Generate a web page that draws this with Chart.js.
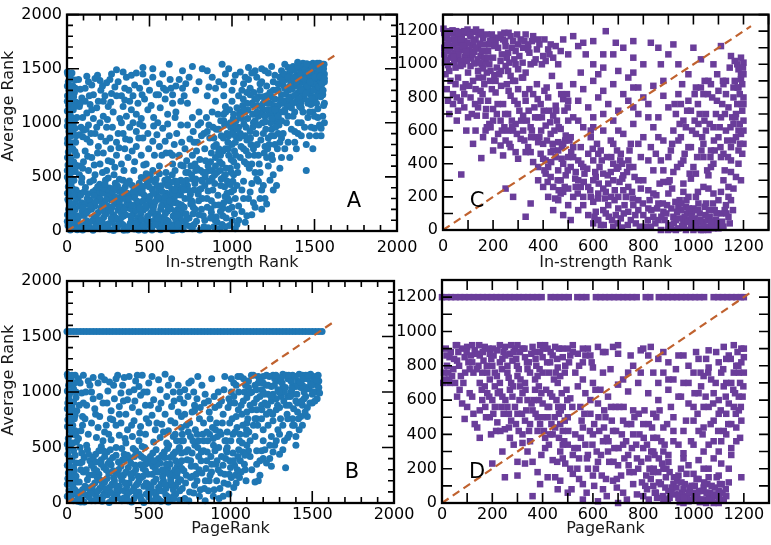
<!DOCTYPE html>
<html>
<head>
<meta charset="utf-8">
<script src="https://cdn.jsdelivr.net/npm/chart.js@4.4.1/dist/chart.umd.min.js"></script>
<style>
  body { margin: 0; background: #fff; }
  #wrap { position: relative; width: 771px; height: 545px; overflow: hidden; }
  canvas { position: absolute; }
</style>
</head>
<body>
<div id="wrap">
  <canvas id="chartA" width="425" height="275" style="left:0;top:0"></canvas>
  <canvas id="chartC" width="381" height="275" style="left:390px;top:0"></canvas>
  <canvas id="chartB" width="425" height="280" style="left:0;top:265px"></canvas>
  <canvas id="chartD" width="381" height="280" style="left:390px;top:265px"></canvas>
</div>
<script>
// tick labels
const AB_TICKS = [0, 500, 1000, 1500, 2000];
const CD_TICKS = [0, 200, 400, 600, 800, 1000, 1200];

// panel A: average rank vs in-strength rank
const A_POINTS = [
  [5,1450],[20,1420],[8,1380],[35,1340],[12,1300],[45,1280],[3,1250],[28,1220],[55,1190],[10,1160],[38,1120],[18,1080],[60,1050],[5,1020],[30,990],[48,950],[12,920],[25,880],[4,850],[52,820],[15,790],[35,760],[8,730],[58,700],[22,670],[40,640],[6,610],[30,580],[50,550],[14,520],[2,500],[42,470],[25,440],[8,410],[55,380],[18,350],[35,320],[5,290],[48,260],[22,230],[10,200],[38,170],[60,140],[15,110],[30,80],[6,50],[45,25],[20,10],[70,1400],[80,1310],[90,1230],[75,1150],[85,960],[95,870],[72,600],[88,450],[65,300],[92,180],
  [2,1470],[30,1460],[15,1400],[48,1395],[2,1340],[25,1310],[50,1320],[18,1265],[40,1240],[2,1200],[22,1180],[45,1150],[2,1110],[28,1050],[45,1010],[2,970],[20,945],[38,905],[55,880],[3,810],[28,815],[48,735],[3,680],[15,640],[52,610],[2,560],[25,540],[10,470],[32,395],[3,350],[45,335],[12,270],[30,245],[50,200],[3,150],[25,130],[45,100],[2,90],[52,55],[28,30],
  [130,1380],[170,1410],[200,1390],[240,1370],[260,1400],[215,1340],[150,1350],[310,1380],[290,1330],[330,1250],[360,1420],[390,1440],[420,1460],[300,1490],[520,1500],[620,1540],[460,1450],[560,1360],[585,1320],[480,1380],[600,1300],[640,1260],[700,1480],[720,1360],[680,1400],
  [110,1200],[140,1170],[180,1140],[120,1090],[160,1040],[220,1200],[250,1150],[280,1100],[200,1000],[240,960],[130,980],[100,930],[170,900],[260,860],[300,820],[330,1000],[360,1060],[390,1120],[420,1080],[450,1040],[340,1150],[380,1200],[430,1180],[470,1220],[510,1160],[540,1260],[500,1300],[460,970],[490,900],[520,830],[550,1000],[580,950],[610,1080],[640,1180],[660,1100],[690,980],[620,880],[560,780],[600,720],[650,800],[680,700],[420,780],[380,840],[350,760],[300,700],[270,640],[220,720],[190,780],[140,820],[110,740],[150,680],[200,620],[240,560],[290,590],[330,620],[370,680],[410,640],[450,700],[480,620],[520,560],[560,600],[600,540],[640,620],[130,560],[170,520],[100,640],[310,900],[420,920],[400,1000],[270,1270],[160,1260],[110,1320],[230,1250],[350,1320],[440,1320],[520,1420],[580,1450],[660,1340],[460,860],[530,700],[180,960],[220,1060],
  [75,520],[95,580],[125,690],[165,610],[185,720],[215,540],[235,830],[265,760],[285,520],[315,770],[345,560],[355,850],[395,740],[405,560],[435,860],[465,610],[495,760],[505,520],[545,890],[575,700],[595,830],[625,720],[655,560],[665,900],[695,820],[75,890],[115,940],[145,900],[205,870],[275,960],[340,900],[380,960],[440,990],[525,970],[610,990],[560,530],[690,610],[250,650],[120,850],[480,530],
  [80,1180],[95,1050],[135,1250],[150,1120],[190,1200],[205,1300],[245,1030],[265,1190],[300,1250],[320,1040],[350,1210],[375,1300],[410,1350],[455,1260],[490,1120],[525,1050],[565,1140],[595,1220],[625,1400],[655,1050],[690,1200],[400,1250],[270,1450],[340,1470],[460,1510],[555,1260],[630,1320],[710,1250],[120,1430],[185,1440],
  [80,20],[110,60],[140,30],[170,85],[200,20],[232,55],[258,12],[290,48],[322,92],[350,28],[383,72],[408,18],[442,63],[471,8],[503,47],[528,95],[561,33],[588,68],[622,22],[648,58],[683,34],[102,143],[128,188],[163,122],[189,172],[222,128],[248,203],[283,148],[309,193],[342,138],[368,214],[403,158],[428,117],[462,192],[488,137],[523,204],[549,158],[583,127],[608,183],[643,138],[668,197],[702,163],[88,262],[122,298],[148,247],[183,322],[208,268],[243,338],[268,287],[302,252],[328,318],[363,268],[388,333],[423,278],[448,352],[482,298],[508,262],[543,328],[568,292],[603,348],[628,312],[663,258],[688,332],[112,402],[138,452],[173,378],[198,432],[233,468],[258,398],[293,442],[318,478],[353,408],[378,462],[413,388],[438,442],[473,482],[498,408],[533,452],[558,392],[593,468],[618,418],[653,462],[678,398],[120,95],[210,100],[300,110],[390,110],[480,95],[570,100],[660,110],[155,220],[245,230],[335,225],[425,240],[515,230],[605,240],[75,350],[195,365],[315,370],[435,375],[555,380],[675,370],[720,60],[740,120],[760,20],[750,250],[730,420],
  [65,80],[95,10],[125,35],[155,95],[185,40],[215,75],[245,35],[275,90],[305,20],[338,60],[365,10],[395,45],[425,85],[455,30],[485,70],[515,10],[545,80],[575,45],[605,100],[635,55],[665,15],[695,90],[70,130],[118,165],[148,200],[178,145],[205,215],[236,160],[265,180],[296,120],[326,175],[356,150],[386,205],[418,190],[446,155],[478,210],[508,165],[538,135],[568,200],[596,160],[628,205],[656,170],[686,125],[78,230],[108,245],[138,285],[168,230],[198,300],[228,250],[258,320],[288,270],[318,230],[348,300],[378,250],[408,310],[438,265],[468,330],[498,285],[528,240],[558,310],[588,265],[618,330],[648,290],[678,250],[82,330],[126,345],[156,360],[186,410],[216,350],[246,385],[276,355],[306,415],[336,380],[366,350],[396,420],[426,395],[456,370],[486,440],[516,385],[546,420],[576,365],[606,440],[636,385],[666,430],[696,380],[90,490],[160,470],[250,490],[340,470],[450,495],[540,480],[610,480],[690,470],
  [62,12],[88,48],[112,22],[133,78],[158,8],[176,52],[193,102],[224,32],[252,68],[268,118],[282,5],[312,58],[331,130],[344,8],[372,42],[389,140],[416,65],[434,10],[451,112],[466,48],[494,102],[511,30],[534,58],[552,118],[567,12],[598,38],[614,88],[641,5],[657,118],[674,62],[698,12],[96,215],[142,232],[172,268],[214,190],[238,292],[274,222],[296,312],[318,272],[346,200],[373,296],[394,238],[413,334],[442,212],[458,276],[476,236],[502,318],[519,188],[536,276],[573,232],[592,312],[614,214],[636,262],[662,330],[684,190],[104,362],[162,328],[222,398],[284,392],[342,352],[402,364],[462,412],[522,352],[572,418],[642,352],[702,404],[230,432],[362,438],[508,468],[630,450],
  [705,20],[725,110],[745,45],[765,160],[785,90],[805,10],[815,200],[835,100],[855,30],[875,170],[895,240],[905,130],[925,20],[945,210],[965,120],[985,50],[715,300],[735,380],[755,280],[775,440],[795,340],[815,470],[835,420],[855,370],[875,280],[895,440],[915,330],[935,480],[955,410],[975,300],[995,360],[1005,460],[725,470],[765,220],[880,490],[1000,220],[1015,160],[1040,100],[1030,420],[1070,300],
  [610,420],[622,280],[638,520],[652,380],[668,150],[680,460],[694,240],[708,380],[722,160],[736,540],[748,340],[762,480],[776,200],[788,580],[798,280],[812,390],[826,140],[838,500],[848,300],[862,560],[872,200],[884,380],[898,100],[908,540],[920,240],[932,420],[944,140],[958,320],[972,460],[984,280],[996,540],[870,640],[930,700],[990,580],[640,700],[700,460],[760,260],[820,460],[880,120],[950,500],
  [720,540],[750,600],[780,480],[800,380],[820,300],[850,220],[870,120],[890,40],[910,80],[930,180],[950,260],[970,350],[990,430],[1010,520],[1030,600],[1050,680],[1070,760],[1090,840],[1110,920],[1130,1000],[760,700],[790,820],[810,560],[840,650],[860,460],[880,560],[900,680],[920,760],[940,620],[960,520],[980,700],[1000,800],[1020,880],[1040,960],[1060,1040],[1080,1100],[1100,700],[1120,620],[1140,540],[1160,460],[1180,380],[1200,300],[1180,200],[1140,220],[1100,300],[1060,380],[1020,300],[980,200],[940,60],[1000,100],[1060,180],[1120,440],[1160,700],[1200,780],[1220,860],[1240,940],[1260,1020],[1280,900],[1260,800],[1240,700],[1220,600],[1270,420],[1300,680],[1320,760],[1350,680],[1380,820],[1400,900],[1450,560],[1470,880],[1500,950],[1520,1050],[1540,880],[1420,1000],[830,900],[860,980],[890,860],[920,940],[950,1020],[980,880],[770,380],[740,300],[710,220],[800,150],[770,60],[830,40],[960,40],[1020,20],
  [705,600],[715,760],[725,650],[745,850],[755,520],[765,920],[775,620],[785,740],[795,980],[805,660],[815,880],[825,540],[835,760],[845,1050],[855,600],[865,860],[875,720],[885,960],[895,520],[905,800],[915,1080],[925,640],[935,880],[945,740],[955,980],[965,580],[975,820],[985,1120],[995,660],[1005,920],[1015,740],[1025,1020],[1035,540],[1045,860],[1055,780],[1065,1160],[1075,640],[1085,960],[1095,1040],[1105,580],[1115,800],[1125,1080],[1135,700],[1145,900],[1155,1160],[1165,620],[1175,840],[1185,1000],[1195,720],[1205,940],[1215,1120],[1225,800],[1235,1000],[1245,660],[1255,880],[1265,1080],[1275,760],[1285,980],[1295,1180],[1300,860],[1290,580],[1250,520],[1210,680],[1170,540],[1130,760],[1090,620],[1050,900],[1010,640],[970,900],[930,560],[890,780],[850,920],[810,1000],[770,820],[730,980],[1120,1180],[1160,1060],[1200,1200],[1240,1240],[1280,1300],[1060,1300],[1000,1200],[950,1250],[1110,1320],[1180,1380],[1230,1180],[1270,1130],[1185,1110],[1140,1020],[1080,880],[1020,820],[960,760],[900,600],[840,540],[780,560],
  [905,940],[918,720],[932,1020],[948,860],[962,1100],[978,760],[992,960],[1008,1040],[1022,700],[1032,940],[1046,1100],[1058,880],[1072,990],[1086,740],[1098,1120],[1112,860],[1126,960],[1138,1220],[1152,800],[1162,980],[1176,1080],[1190,900],[1202,1010],[1216,760],[1228,1080],[1238,880],[1252,1160],[1264,960],[1278,1040],[1290,820],[1296,1100],[1210,1250],[1250,1300],[1190,1180],[1068,1220],[1132,1280],[950,1080],[1010,970],[1090,1280],[1160,1240],
  [1010,380],[1040,230],[1070,460],[1090,140],[1110,360],[1130,260],[1150,480],[1170,300],[1190,420],[1210,250],[1230,470],[1250,380],[1030,60],[1080,80],[1120,150],
  [1150,1100],[1180,1150],[1200,1060],[1220,1180],[1240,1120],[1260,1220],[1280,1160],[1300,1260],[1320,1200],[1340,1300],[1360,1240],[1380,1340],[1400,1280],[1420,1380],[1440,1320],[1460,1420],[1480,1360],[1500,1460],[1520,1400],[1540,1500],[1550,1450],[1330,1400],[1350,1460],[1370,1520],[1390,1440],[1410,1500],[1430,1550],[1450,1480],[1470,1530],[1490,1550],[1510,1520],[1530,1550],[1550,1540],[1560,1380],[1540,1320],[1520,1280],[1500,1200],[1480,1250],[1460,1180],[1440,1220],[1420,1140],[1400,1180],[1380,1100],[1360,1140],[1340,1060],[1320,1100],[1300,1020],[1280,1060],[1260,1120],[1240,1040],[1310,1350],[1290,1420],[1270,1300],[1250,1380],[1230,1280],[1210,1340],[1190,1240],[1170,1300],[1150,1220],[1130,1160],[1110,1260],[1090,1180],[1070,1120],[1050,1060],[1030,1140],[1010,1080],[990,1000],[1100,1400],[1140,1480],[1180,1500],[1220,1460],[1000,1300],[950,1350],[900,1200],[850,1250],[800,1100],[760,1050],[730,1180],[780,1300],[1040,1250],[960,1150],[880,1100],[1540,950],[1490,1100],[1510,1320],[1470,1300],[1560,1450],[850,1480],[960,1450],[1080,1420],[900,1320],
  [1300,1480],[1320,1540],[1340,1510],[1360,1380],[1380,1490],[1400,1420],[1420,1520],[1440,1400],[1460,1540],[1480,1470],[1500,1530],[1520,1450],[1540,1400],[1555,1500],[1320,1320],[1350,1340],[1390,1200],[1410,1330],[1430,1260],[1450,1360],[1470,1200],[1490,1400],[1510,1240],[1530,1360],[1550,1260],[1560,1180],[1280,1360],[1260,1440],[1310,1180],[1350,1180],[1430,1460],[1470,1440],[1500,1350],[1545,1420],[1525,1500],
  [1292,1215],[1305,1395],[1318,1450],[1326,1265],[1338,1420],[1346,1228],[1356,1500],[1364,1310],[1374,1415],[1382,1255],[1392,1380],[1398,1525],[1405,1225],[1415,1455],[1422,1300],[1434,1410],[1442,1495],[1448,1270],[1456,1340],[1464,1470],[1474,1380],[1478,1170],[1486,1515],[1494,1300],[1504,1420],[1512,1180],[1516,1550],[1524,1330],[1534,1430],[1538,1240],[1546,1360],[1552,1300],[1558,1540],[1560,1410],[1486,1225],[1416,1180],[1366,1180],[1336,1150],[1452,1545],[1398,1560],
  [1310,900],[1330,1000],[1340,820],[1360,940],[1370,1060],[1390,760],[1400,1000],[1420,880],[1430,1100],[1450,800],[1460,1050],[1480,960],[1490,760],[1500,1060],[1510,880],[1520,1130],[1530,980],[1550,1060],[1555,1160],[1440,960],[1380,920],[1320,1120],[1410,1150],[1470,1100],[1560,1000],
  [740,1420],[800,1380],[820,1500],[880,1420],[920,1380],[980,1500],[1010,1380],[1050,1470],[1100,1510],[1150,1420],[1200,1480],[1240,1520],[1170,1360],[1020,1440],[860,1330],[700,1320],[760,1520],[1120,1460],[940,1540],[1070,1360]
];

// panel B: average rank vs PageRank
const B_ROW_Y = 1545;
const B_ROW_X = [0,20,40,60,80,100,120,140,160,180,200,220,240,260,280,300,320,340,360,380,400,420,440,460,480,500,520,540,560,580,600,620,640,660,680,700,720,740,760,780,800,820,840,860,880,900,920,940,960,980,1000,1020,1040,1060,1080,1100,1120,1140,1160,1180,1200,1220,1240,1260,1280,1300,1320,1340,1360,1380,1400,1420,1440,1460,1480,1500,1520,1540,1560];
const B_POINTS = [
  [5,1140],[25,1110],[50,1150],[70,1120],[10,1060],[40,1030],[15,980],[55,950],[5,900],[30,870],[60,830],[12,790],[45,760],[20,720],[3,690],[50,650],[28,620],[8,580],[58,550],[20,510],[40,470],[5,440],[30,400],[55,360],[15,330],[45,290],[25,250],[5,220],[60,190],[35,150],[12,110],[50,80],[22,40],[65,15],[80,1080],[90,990],[75,880],[95,700],[80,500],[100,1150],[85,300],[95,120],
  [2,1160],[30,1150],[15,1090],[45,1080],[2,1010],[25,1000],[55,1000],[10,940],[40,910],[2,850],[25,830],[50,790],[5,750],[35,700],[15,660],[55,610],[2,530],[35,540],[10,490],[50,430],[20,380],[2,340],[40,320],[8,270],[55,240],[30,200],[2,170],[48,120],[25,90],[2,60],[40,20],
  [130,1100],[160,1130],[190,1080],[230,1110],[260,1090],[300,1120],[340,1060],[380,1140],[420,1100],[460,1150],[500,1080],[560,1110],[600,1160],[640,1120],[680,1060],[150,1000],[200,960],[250,1010],[290,940],[330,990],[370,930],[410,1020],[450,970],[490,1000],[530,930],[570,1020],[610,960],[650,1000],[690,940],[120,880],[170,850],[220,900],[270,830],[320,870],[360,800],[400,860],[440,820],[480,880],[520,790],[560,850],[600,800],[640,870],[680,820],[110,760],[150,720],[200,780],[240,700],[280,750],[330,720],[370,660],[410,740],[450,690],[500,720],[540,660],[580,710],[620,650],[660,720],[700,680],[130,620],[180,590],[230,640],[270,570],[320,610],[360,540],[400,600],[440,560],[480,620],[530,550],[570,590],[610,540],[650,600],[120,520],[210,510],[300,500],[460,510],[700,560],[720,800],[740,960],[760,1100],[800,1140],[720,1020],[780,880],
  [70,580],[85,650],[95,780],[100,900],[115,1000],[140,1060],[160,940],[175,800],[190,680],[210,1140],[220,560],[245,900],[255,620],[265,760],[285,1060],[300,700],[310,1150],[320,800],[345,920],[355,580],[380,1000],[395,700],[415,920],[430,1150],[445,630],[470,1000],[485,760],[510,880],[520,1140],[550,720],[575,900],[590,640],[620,1060],[635,740],[655,920],[670,560],[690,1000],[700,780],[440,1050],[350,1130],
  [90,30],[120,70],[150,20],[180,60],[215,15],[245,75],[275,30],[305,80],[335,20],[365,60],[395,10],[425,70],[455,30],[485,80],[515,20],[545,60],[575,15],[605,70],[635,35],[665,80],[110,150],[140,120],[170,180],[200,130],[230,190],[260,140],[290,200],[320,150],[350,110],[380,180],[410,140],[440,200],[470,150],[500,120],[530,190],[560,140],[590,200],[620,160],[650,120],[680,190],[100,280],[135,250],[165,310],[195,260],[225,320],[255,270],[285,230],[315,300],[345,250],[375,320],[405,270],[435,240],[465,310],[495,260],[525,330],[555,280],[585,240],[615,310],[645,270],[675,330],[105,410],[140,380],[175,440],[210,390],[245,460],[280,410],[315,370],[350,440],[385,400],[420,470],[455,420],[490,380],[525,450],[560,400],[595,460],[630,410],[665,380],[700,450],
  [70,45],[105,10],[135,55],[165,100],[195,25],[228,85],[258,5],[288,50],[318,110],[348,45],[378,95],[410,40],[440,100],[470,5],[500,55],[530,100],[560,35],[590,105],[620,10],[650,60],[690,25],[75,190],[125,210],[155,150],[185,230],[215,160],[245,220],[275,170],[305,125],[335,205],[365,145],[395,225],[425,165],[455,230],[485,180],[515,145],[545,215],[575,170],[605,130],[635,225],[665,155],[695,210],[80,360],[118,300],[150,340],[182,290],[210,350],[240,300],[270,345],[300,270],[330,330],[360,280],[390,360],[420,300],[450,345],[480,290],[510,360],[540,310],[570,360],[600,280],[630,350],[660,300],[690,360],[90,450],[125,480],[160,410],[195,470],[230,420],[265,480],[300,430],[335,490],[370,430],[405,490],[440,440],[475,500],[510,420],[545,480],[580,430],[615,490],[650,440],[685,490],
  [62,100],[84,8],[98,88],[128,135],[145,85],[158,255],[173,20],[188,108],[205,205],[220,60],[238,128],[252,355],[268,95],[282,290],[296,160],[312,45],[326,245],[340,390],[356,180],[372,20],[388,262],[402,110],[418,340],[432,175],[448,60],[464,240],[480,350],[494,170],[508,90],[522,260],[538,20],[552,350],[566,110],[584,300],[598,170],[612,60],[626,260],[642,170],[656,40],[672,240],[690,110],[92,370],[132,440],[178,370],[222,470],[262,380],[352,390],[412,420],[472,400],[532,380],[598,410],[662,460],[702,310],
  [720,40],[750,100],[780,160],[810,60],[840,130],[870,200],[900,120],[930,40],[960,180],[990,80],[1020,140],[730,250],[760,330],[790,260],[820,380],[850,310],[880,420],[910,350],[940,270],[970,400],[1000,320],[1030,250],[1060,380],[1090,300],[1120,420],[1150,190],[1065,280],[1180,380],[1210,480],[1240,400],[1270,520],[1300,440],[1337,317],[1330,560],[1360,620],[1400,600],[1440,700],[1470,780],
  [705,130],[715,290],[725,180],[735,390],[745,20],[755,230],[765,450],[775,90],[785,330],[795,200],[805,420],[815,120],[825,270],[835,470],[845,20],[855,380],[865,110],[875,250],[885,350],[895,60],[905,470],[915,200],[925,300],[935,130],[945,420],[955,60],[965,260],[975,480],[985,170],[995,380],[1005,230],[1015,450],[1025,340],[1035,180],[1045,420],[1055,230],[1075,460],[1085,350],[1095,200],[1110,470],[1130,300],[1160,350],[1180,250],[1190,470],[1220,360],[1260,460],
  [608,350],[622,520],[634,200],[648,430],[662,620],[676,280],[688,500],[702,380],[712,560],[726,460],[742,640],[756,380],[768,240],[782,520],[796,620],[808,300],[822,460],[836,560],[846,200],[858,460],[872,620],[884,280],[896,520],[908,660],[918,380],[928,500],[942,620],[954,340],[966,560],[978,460],[992,260],[1002,560],[1018,380],[1028,640],[1042,300],[1058,620],[1072,540],[1088,430],[1098,660],[1112,640],
  [740,480],[770,560],[800,500],[830,620],[860,560],[890,680],[920,600],[950,720],[980,640],[1010,760],[1040,680],[1070,800],[1100,720],[1130,840],[1160,760],[1190,880],[1220,800],[1250,920],[1280,840],[1310,960],[1340,880],[1370,1000],[1400,920],[1430,1040],[1460,960],[1490,1080],[1520,1000],[1540,1100],[750,720],[780,830],[810,760],[840,900],[870,820],[900,960],[930,880],[960,1020],[990,940],[1020,1080],[1050,1000],[1080,1120],[1110,1040],[1140,1150],[1170,1080],[1200,1140],[1230,1060],[1260,1150],[1290,1100],[1320,1160],[1350,1120],[1380,1150],[1410,1100],[1440,1150],[1470,1120],[1500,1140],[1530,1060],[1200,1000],[1260,980],[1320,1040],[1380,1060],[1440,880],[1500,900],[1160,940],[1230,700],[1290,660],[1350,760],[1410,820],[1150,600],[1200,560],[1100,520],[1050,480],[980,500],[1000,900],[1100,950],[1190,1020],[1350,960],[1450,1000],
  [705,620],[715,900],[730,700],[745,1080],[755,600],[765,820],[775,1000],[785,660],[795,940],[805,560],[815,860],[825,1060],[835,720],[845,980],[855,640],[865,920],[875,760],[885,1120],[895,580],[905,860],[915,720],[925,1000],[935,640],[945,920],[955,800],[965,1140],[975,560],[985,860],[995,720],[1005,1000],[1015,620],[1025,900],[1035,780],[1045,1140],[1055,560],[1065,880],[1075,700],[1085,1000],[1095,620],[1100,820],
  [1110,1100],[1120,880],[1130,1000],[1140,700],[1150,1060],[1160,840],[1170,1140],[1180,960],[1190,760],[1200,1080],[1210,900],[1220,1150],[1230,980],[1240,820],[1250,1050],[1260,740],[1270,1120],[1280,940],[1290,1020],[1300,860],[1310,1130],[1320,700],[1330,1000],[1340,1150],[1360,880],[1370,1100],[1380,980],[1390,700],[1400,1050],[1410,900],[1420,1160],[1430,780],[1440,1060],[1450,940],[1460,1150],[1470,860],[1480,1030],[1490,1160],[1500,980],[1510,1100],[1520,1140],[1530,940],[1540,1040],[1545,990],[1380,760],[1420,660],[1300,620],[1250,600],[1200,660],[1150,760],
  [1005,1120],[1020,960],[1035,1060],[1048,840],[1062,1140],[1078,920],[1092,1060],[1106,760],[1118,990],[1128,1150],[1144,900],[1158,1020],[1166,700],[1178,1110],[1192,840],[1206,980],[1216,1060],[1226,880],[1238,1140],[1248,960],[1258,800],[1268,1060],[1278,1150],[1288,880],[1298,1000],[1306,760],[1316,1080],[1326,920],[1336,1040],[1346,800],[1356,1150],[1366,960],[1376,1030],[1386,850],[1396,1140],[1406,980],[1416,760],[1426,1090],[1436,920],[1446,1120],[1456,820],[1466,1040],[1476,1150],[1486,900],[1496,1060],[1506,1000],[1516,920],[1526,1110],[1536,1150],[1380,700],
  [1120,560],[1160,470],[1200,400],[1240,520],[1280,560],[1320,480],[1350,590],[1400,520],[1170,200],[1250,330]
];

// panel C: in-strength rank against a second ranking
const C_POINTS = [
  [5,1190],[25,1200],[45,1185],[70,1195],[95,1190],[10,1160],[35,1150],[60,1165],[85,1140],[110,1170],[130,1150],[15,1120],[40,1110],[65,1125],[90,1100],[115,1115],[140,1095],[20,1080],[50,1070],[75,1085],[100,1060],[125,1075],[150,1050],[30,1040],[60,1030],[165,1120],[180,1080],[200,1160],[220,1100],[240,1150],[260,1070],[280,1140],[300,1120],[200,1040],[230,1020],[170,1010],[255,1040],[8,1010],[25,960],[50,980],[80,1000],[110,990],[140,960],[190,960],[250,990],[290,1000],[320,1100],[345,1070],[370,1030],[395,1000],[420,1090],[10,940],[30,900],[60,920],[90,880],[120,900],[160,920],[210,900],[270,930],[330,950],
  [2,1215],[15,1175],[30,1190],[52,1200],[75,1175],[98,1210],[120,1195],[142,1180],[160,1160],[22,1140],[48,1135],[72,1150],[98,1130],[122,1135],[148,1125],[5,1100],[28,1095],[55,1090],[80,1110],[105,1085],[130,1100],[155,1080],[5,1060],[35,1060],[62,1055],[88,1045],[112,1035],[138,1030],[165,1040],[15,1025],[45,1010],[72,1020],[95,1020],[125,1005],[155,1000],[180,1040],[210,1130],[230,1180],[250,1110],[270,1170],[290,1080],[310,1150],[265,1010],[215,980],[185,1120],[195,1180],[245,1190],[330,1180],[355,1140],[375,1090],[400,1050],[440,1040],[300,970],[350,1000],[175,950],
  [8,1180],[38,1205],[62,1185],[85,1200],[108,1180],[132,1210],[152,1195],[175,1180],[188,1140],[205,1110],[222,1160],[235,1060],[248,1140],[262,1190],[275,1100],[285,1030],[296,1180],[305,1050],[318,1010],[325,1140],[340,1090],[360,1170],[365,1010],[385,1120],[405,1150],[410,1020],[425,1060],[450,1110],[20,995],[42,1045],[70,990],[92,1075],[118,1060],[145,1010],[160,975],[185,1000],[205,935],[232,960],[260,960],[280,900],[320,920],
  [40,820],[80,860],[110,800],[150,840],[180,780],[210,830],[240,760],[270,810],[300,850],[330,780],[360,820],[390,760],[420,800],[450,750],[480,790],[60,720],[100,680],[140,740],[170,690],[200,730],[230,660],[260,700],[290,640],[320,690],[350,620],[380,680],[410,630],[440,690],[470,610],[500,660],[130,600],[160,560],[190,620],[220,580],[250,540],[280,600],[310,550],[340,500],[370,560],[400,520],[430,580],[460,530],[490,570],[93,600],[200,480],[240,450],[270,500],[300,430],[330,470],[360,410],[390,460],[420,380],[450,440],[480,400],[153,434],[73,335],[330,80],[250,250],[280,200],[380,300],[410,340],[440,260],[470,300],[500,250],[350,160],[420,200],
  [15,850],[50,880],[70,780],[100,950],[130,850],[165,880],[195,850],[225,940],[255,880],[285,780],[315,920],[345,850],[375,880],[405,840],[435,930],[465,870],[495,820],[25,700],[55,660],[85,740],[115,700],[150,780],[185,640],[215,700],[245,620],[275,660],[305,720],[335,660],[365,740],[395,680],[425,720],[455,660],[485,720],[120,520],[170,600],[205,540],[235,600],[265,520],[295,580],[325,540],[355,600],[385,560],[415,540],[445,600],[475,500],[505,540],[230,510],[290,470],[350,470],[410,420],[460,480],[500,440],
  [105,870],[128,760],[142,920],[158,820],[172,730],[188,900],[200,660],[218,760],[232,870],[248,700],[262,840],[276,620],[288,900],[298,760],[312,660],[328,820],[342,720],[352,560],[368,680],[378,790],[392,600],[402,720],[414,860],[428,650],[438,520],[452,720],[462,620],[472,820],[488,540],[498,740],[20,780],[40,760],[55,800],[85,820],[135,690],[175,620],[260,600],[320,600],[380,530],[440,480],
  [480,1150],[520,1170],[540,1110],[570,1060],[600,1000],[620,940],[650,1200],[690,1130],[720,1100],[760,1040],[800,1000],[830,1130],[860,1100],[900,1060],[940,1000],[980,940],[1030,1030],[1080,1000],[1110,1110],[1150,1050],[1180,970],[1200,1010],[500,1060],[460,1000],[640,1060],[700,960],[740,920],[1000,1100],[1060,900],[1120,880],[1190,910],[430,1120],[380,1150],[340,1120],
  [470,1080],[560,1130],[600,1140],[640,980],[680,1060],[760,1140],[870,1000],[920,1120],[550,950],[760,950],[880,900],[500,780],[640,700],[780,860],[820,680],[700,600],[760,740],[600,620],[540,660],[860,560],[900,440],[940,540],[820,420],[780,520],[740,420],[680,520],[880,360],[850,460],[700,380],[620,460],
  [520,880],[560,850],[600,900],[640,840],[680,880],[720,820],[760,860],[800,800],[840,870],[880,810],[540,780],[580,740],[620,800],[660,760],[700,720],[740,780],[780,700],[820,760],[860,680],[900,740],[520,680],[560,620],[600,680],[640,600],[680,660],[720,580],[760,640],[800,560],[840,620],[880,540],[920,600],[510,560],[550,500],[590,560],[630,480],[670,540],[710,460],[750,520],[790,440],[830,500],[870,420],[910,480],[950,400],[520,440],[560,380],[600,420],[640,340],[680,400],[720,330],[760,380],[800,300],[840,360],[880,290],[920,350],[960,280],[540,300],[580,260],[620,220],[660,280],[700,200],[740,260],[780,180],[820,240],[860,160],[900,220],[940,140],[980,200],[1020,160],
  [380,380],[400,260],[430,320],[460,360],[470,220],[490,330],[510,380],[520,200],[540,420],[550,260],[565,340],[580,460],[590,200],[600,300],[615,520],[625,380],[640,250],[655,440],[670,350],[685,180],[695,480],[705,290],[715,400],[725,150],[735,350],[745,480],[755,230],[765,320],[440,120],[480,90],[510,60],[560,150],[600,40],[640,120],[675,60],[520,500],[480,520],[430,470],[400,430],[590,600],
  [405,360],[418,290],[432,410],[448,190],[458,300],[474,430],[486,260],[498,360],[512,470],[528,310],[538,220],[552,400],[562,290],[576,370],[588,240],[598,490],[608,350],[622,280],[634,420],[646,190],[658,330],[672,440],[686,240],[694,370],[708,420],[716,310],[732,200],[744,380],[462,240],[530,350],
  [460,180],[500,150],[540,120],[580,90],[620,60],[650,100],[680,20],[710,70],[740,110],[770,40],[800,90],[830,20],[860,60],[880,110],[900,30],[920,80],[940,10],[960,50],[975,100],[990,20],[1005,70],[1020,10],[1035,50],[1050,20],[1065,80],[1080,10],[1095,40],[1110,100],[950,120],[1000,130],[1050,160],[1100,180],[1140,200],[1130,150],[870,0],[910,5],[1060,0],[1030,0],[820,130],[760,150],[700,130],[600,170],[560,200],[480,230],[530,260],[610,320],[680,300],[650,230],[720,240],[1080,220],[1040,260],[990,310],[1060,330],[1120,300],
  [610,110],[630,30],[660,150],[690,90],[715,15],[730,200],[750,60],[780,120],[790,250],[810,20],[825,180],[840,80],[855,130],[865,280],[885,60],[895,150],[905,20],[915,250],[930,60],[935,110],[945,180],[955,25],[965,80],[970,140],[985,60],[995,110],[1000,0],[1012,40],[1025,100],[1040,30],[1045,140],[1058,60],[1072,30],[1085,120],[1090,60],[1100,10],[1115,50],[1125,120],[1140,80],[1150,180],[1010,200],[960,230],[900,290],[840,220],[780,300],[1060,250],[1110,230],[1160,250],[970,0],[930,0],[1000,40],
  [605,80],[618,190],[642,30],[662,80],[672,200],[698,40],[722,100],[738,30],[758,190],[768,90],[786,20],[798,160],[818,60],[832,120],[848,40],[852,210],[872,80],[878,160],[892,100],[898,0],[912,130],[922,40],[928,170],[942,70],[952,160],[962,20],[978,50],[982,130],[992,80],[1008,20],[1018,120],[1028,60],[1038,0],[1048,90],[1062,120],[1070,50],[1078,160],[1092,100],[1105,30],[1120,20],[1132,100],[1145,40],[1158,120],[1018,230],[972,180],
  [940,820],[980,780],[1010,860],[1040,820],[1070,880],[1100,840],[1130,900],[1160,860],[1190,940],[1200,800],[930,700],[960,660],[990,720],[1020,640],[1050,700],[1080,620],[1110,680],[1140,740],[1170,700],[1200,760],[950,560],[980,500],[1010,580],[1040,520],[1070,480],[1100,560],[1130,600],[1160,640],[1190,580],[1200,520],[960,420],[1000,380],[1040,440],[1080,400],[1120,460],[1150,420],[1180,480],[1150,350],[1170,320],[1190,300],[1140,260],[1200,660],[1185,820],[1195,880],[1175,1000],
  [905,300],[915,520],[925,760],[935,380],[945,640],[955,880],[965,460],[975,720],[985,340],[995,600],[1005,820],[1015,440],[1025,700],[1035,560],[1045,900],[1055,360],[1065,640],[1075,800],[1085,480],[1095,940],[1105,620],[1115,760],[1125,360],[1135,540],[1145,980],[1155,680],[1160,800],[1165,900],[1170,560],[1175,760],[1180,400],[1185,640],[1190,1040],[1195,720],[1200,600],[1200,940],[1195,460],[1180,860],[1165,1020],[1150,500],[1130,820],[1110,440],[1090,700],[1070,380],[1050,600],[1030,860],[1010,340],[990,500],[970,620],[950,760],
  [1005,660],[1018,760],[1032,480],[1044,660],[1058,820],[1068,440],[1082,540],[1094,780],[1108,500],[1118,900],[1126,700],[1138,440],[1148,620],[1158,540],[1168,680],[1176,860],[1186,520],[1192,760],[1198,980],[1180,600]
];

// panel D: PageRank against a second ranking
const D_ROW_Y = 1200;
const D_ROW_X = [0,18,36,54,72,90,108,126,144,162,180,198,216,234,252,270,288,306,324,342,360,378,396,432,450,468,486,504,538,556,574,612,630,648,666,684,702,720,738,756,774,810,828,862,880,898,916,934,952,970,988,1006,1024,1042,1080,1098,1116,1134,1152,1170,1188,1200];
const D_POINTS = [
  [10,720],[25,760],[40,740],[15,900],[35,880],[55,920],[80,900],[60,830],[90,850],[110,780],[130,890],[150,860],[170,910],[190,870],[120,820],[160,760],[200,800],[220,890],[250,910],[270,870],[290,900],[310,880],[240,840],[280,830],[330,850],[360,910],[390,880],[420,900],[450,910],[190,720],[230,700],[260,760],[300,740],[340,780],[370,720],[400,760],[430,820],[460,790],[480,850],[500,900],[520,920],[540,870],[580,900],[620,910],[650,880],[680,910],[560,820],[600,790],[640,760],[530,760],
  [5,700],[20,800],[30,850],[45,780],[65,880],[75,740],[100,910],[105,820],[125,760],[140,870],[145,800],[165,830],[180,760],[185,900],[205,860],[210,760],[230,820],[245,880],[260,800],[275,920],[295,840],[305,780],[320,900],[345,820],[355,870],[375,800],[380,740],[400,850],[410,920],[425,760],[440,860],[465,900],[470,740],[490,800],[510,860],[30,700],[85,700],[150,700],[210,680],[275,700],[330,700],[385,680],[445,720],[60,920],[120,920],[230,920],[300,920],[390,920],
  [8,760],[18,860],[28,720],[48,840],[52,700],[68,800],[92,760],[98,880],[115,860],[138,780],[148,920],[162,880],[178,800],[196,840],[202,900],[218,740],[238,780],[252,860],[265,730],[285,880],[298,800],[312,720],[328,900],[338,820],[350,760],[368,880],[372,840],[388,780],[402,900],[418,820],[432,880],[452,760],[458,840],[478,900],[488,760],[505,820],[520,880],[545,800],[570,860],[595,820],
  [70,660],[100,560],[90,490],[120,620],[150,540],[140,440],[170,680],[200,600],[230,650],[260,560],[190,500],[220,470],[250,430],[280,620],[310,680],[340,600],[370,660],[400,580],[430,640],[460,700],[300,520],[330,480],[360,540],[390,460],[420,500],[450,440],[480,560],[510,610],[270,380],[320,400],[350,360],[380,420],[410,380],[440,400],[470,460],[500,500],[150,380],[240,300],[250,150],[200,230],[300,160],[330,230],[380,180],[410,320],[440,250],[470,300],[500,340],[490,230],[520,280],[360,40],[450,150],
  [60,620],[80,580],[110,640],[125,520],[160,600],[175,500],[180,640],[210,560],[215,420],[240,620],[245,520],[270,660],[275,480],[290,560],[305,420],[320,640],[335,540],[350,460],[365,600],[380,500],[395,640],[405,420],[420,560],[435,460],[455,600],[465,520],[480,420],[495,660],[130,460],[195,400],[285,340],[340,300],[395,280],[425,340],[465,380],[480,260],[360,240],[320,350],[300,240],[420,150],[390,110],[460,80],
  [158,660],[172,560],[188,620],[204,520],[222,640],[236,560],[252,600],[266,520],[282,680],[294,460],[308,600],[318,520],[332,660],[346,420],[356,580],[372,520],[386,600],[398,500],[414,660],[426,560],[438,620],[448,500],[462,560],[476,640],[488,480],[498,600],[232,420],[266,440],[430,400],[480,340],
  [540,680],[570,640],[600,700],[630,660],[660,620],[700,690],[740,650],[780,700],[820,640],[860,600],[900,660],[940,620],[980,580],[1020,640],[550,560],[590,520],[620,580],[650,500],[690,560],[720,480],[760,540],[800,460],[840,520],[880,440],[920,500],[960,420],[1000,480],[1040,440],[560,440],[600,400],[640,360],[680,420],[720,340],[760,400],[800,320],[840,380],[880,300],[920,360],[960,290],[1000,340],[1040,300],[1080,360],[540,320],[580,280],[620,240],[660,300],[700,220],[740,280],[780,200],[820,260],[860,180],[900,240],[940,160],[980,220],[1020,140],[1060,200],[1100,160],[470,130],[520,170],[560,110],[600,160],[640,80],[680,130],[720,60],[760,110],[800,40],[840,100],[880,20],[900,70],[920,110],[940,30],[960,80],[980,10],[1000,60],[1020,20],[1040,90],[1060,40],[1080,0],[1100,70],[1120,20],[560,20],[620,10],[700,0],[500,60],
  [510,200],[530,400],[545,260],[555,480],[570,340],[580,200],[590,600],[605,460],[615,300],[625,420],[635,160],[645,540],[655,380],[665,240],[675,480],[685,320],[695,140],[705,560],[715,400],[725,260],[735,460],[745,180],[755,320],[765,500],[775,260],[785,400],[795,120],[805,540],[815,340],[825,200],[835,440],[845,280],[855,380],[865,540],[875,230],[885,340],[895,460],[905,180],[515,80],[545,140],[575,60],[605,100],[655,40],[695,90],[735,20],[775,50],[815,80],[855,30],
  [458,240],[472,540],[486,360],[502,420],[518,560],[526,320],[538,200],[552,380],[566,520],[576,260],[588,420],[598,340],[612,200],[622,500],[632,280],[644,440],[652,140],[662,360],[672,560],[682,240],[692,420],[702,320],[712,160],[722,560],[732,360],[742,220],[752,460],[762,180],[772,340],[782,520],[792,240],[802,380],[812,160],[822,460],[832,300],[842,200],[852,500],[862,260],[872,360],[892,200],
  [830,140],[850,60],[870,110],[890,150],[905,30],[915,90],[925,50],[935,130],[945,5],[955,60],[965,110],[975,40],[985,90],[995,20],[1005,100],[1015,50],[1025,5],[1035,70],[1045,20],[1055,110],[1065,60],[1075,20],[1085,90],[1095,40],[1105,110],[1115,60],[1130,40],[1140,120],[1060,150],[1000,170],[950,200],[900,280],[1020,250],[1080,260],[1150,280],[1110,230],[960,260],[880,200],[840,300],[1040,200],[1100,0],[1050,0],[960,0],
  [808,100],[822,20],[838,180],[846,60],[862,120],[878,40],[888,90],[898,20],[912,60],[922,150],[932,90],[942,50],[952,120],[962,30],[972,170],[982,60],[992,100],[1002,30],[1012,140],[1022,70],[1032,20],[1042,120],[1052,60],[1062,20],[1072,100],[1082,50],[1092,150],[1102,30],[1112,110],[1128,80],
  [860,840],[900,820],[940,860],[980,800],[1020,840],[1060,790],[1100,820],[1140,860],[1170,800],[1190,900],[1200,850],[1180,760],[1150,700],[1120,680],[1180,620],[1160,560],[1130,520],[1190,480],[1170,440],[1130,400],[1110,360],[1190,150],[1140,200],[1080,640],[1060,560],[1100,520],[880,760],[920,720],[960,700],[1000,760],[1040,740],[750,860],[790,890],[830,910],[700,870],[740,760],[790,760],[1060,890],[1120,910],
  [910,560],[920,420],[930,780],[940,340],[950,620],[960,860],[970,480],[980,700],[990,360],[1000,560],[1010,880],[1020,420],[1030,680],[1040,560],[1050,840],[1060,340],[1070,720],[1080,480],[1090,880],[1100,600],[1110,760],[1120,420],[1130,840],[1140,580],[1150,460],[1160,760],[1165,640],[1170,360],[1175,880],[1180,540],[1185,700],[1190,820],[1195,620],[1200,760],[1200,900],[1185,380],[1150,320],[1100,300],[1130,700],[1160,920],
  [1004,640],[1016,520],[1028,760],[1036,400],[1048,620],[1058,760],[1068,460],[1078,580],[1088,700],[1098,420],[1108,540],[1118,780],[1128,620],[1138,460],[1148,840],[1158,660],[1168,520],[1178,800],[1188,560],[1198,680],
  [560,720],[590,860],[610,660],[670,780],[700,920],[720,720],[760,800],[800,900],[840,760],[880,880],[900,720],[640,880],[560,900],[820,860],[860,700]
];

// diagonal reference line ends
const A_DIAG = 1620, B_DIAG = 1620, C_DIAG = 1230, D_DIAG = 1225;

const BLUE = '#1f77b4';
const PURPLE = '#6a3d9a';
const DIAG_COLOR = '#c0622f';

Chart.defaults.font.family = '"DejaVu Sans", sans-serif';
Chart.defaults.color = '#000';

// matplotlib-like frame with inward ticks on all four sides, plus panel letter
const frameTicks = {
  id: 'frameTicks',
  afterDatasetsDraw(chart, args, o) {
    const {ctx, chartArea: a, scales: {x, y}} = chart;
    ctx.save();
    ctx.strokeStyle = '#000';
    ctx.lineWidth = 1.6;
    ctx.beginPath();
    for (let v = 0; v <= x.max + 0.1; v += o.minor) {
      const len = v % o.major === 0 ? o.majorLen : o.minorLen;
      const p = x.getPixelForValue(v);
      ctx.moveTo(p, a.bottom); ctx.lineTo(p, a.bottom - len);
      ctx.moveTo(p, a.top); ctx.lineTo(p, a.top + len);
    }
    for (let v = 0; v <= y.max + 0.1; v += o.minor) {
      const len = v % o.major === 0 ? o.majorLen : o.minorLen;
      const p = y.getPixelForValue(v);
      ctx.moveTo(a.left, p); ctx.lineTo(a.left + len, p);
      ctx.moveTo(a.right, p); ctx.lineTo(a.right - len, p);
    }
    ctx.stroke();
    ctx.lineWidth = 2.3;
    ctx.strokeRect(a.left, a.top, a.right - a.left, a.bottom - a.top);

    ctx.fillStyle = '#000';
    ctx.font = '21px "DejaVu Sans"';
    ctx.textAlign = 'center';
    ctx.textBaseline = 'alphabetic';
    ctx.fillText(o.letter, o.letterX, o.letterY);

    if (o.yTitle) {
      ctx.translate(9, o.yTitleY);
      ctx.rotate(-Math.PI / 2);
      ctx.font = '16px "DejaVu Sans"';
      ctx.fillStyle = '#1a1a1a';
      ctx.textBaseline = 'middle';
      ctx.fillText(o.yTitle, 0, 0);
    }
    ctx.restore();
  }
};

function drawPanel(id, o) {
  const mark = {
    pointStyle: o.style,
    pointRadius: o.radius,
    backgroundColor: o.color,
    pointBorderWidth: 0,
    order: 1,
    clip: false
  };
  const datasets = [
    {
      data: [{x: 0, y: 0}, {x: o.diag, y: o.diag}],
      showLine: true,
      borderColor: DIAG_COLOR,
      borderWidth: 2.2,
      borderDash: [8, 5],
      pointRadius: 0,
      order: 0,
      clip: false
    },
    Object.assign({data: o.points.map(([x, y]) => ({x, y}))}, mark)
  ];
  if (o.rowX) {
    datasets.push(Object.assign({data: o.rowX.map(x => ({x, y: o.rowY}))}, mark));
  }
  const tickFont = {size: 16};
  const plain = v => String(v);
  new Chart(document.getElementById(id), {
    type: 'scatter',
    data: {datasets},
    options: {
      responsive: false,
      animation: false,
      events: [],
      layout: {autoPadding: false, padding: o.pad},
      plugins: {
        legend: {display: false},
        tooltip: {enabled: false},
        frameTicks: o.frame
      },
      scales: {
        x: {
          type: 'linear',
          min: 0,
          max: o.max,
          afterBuildTicks: s => { s.ticks = o.ticks.map(v => ({value: v})); },
          ticks: {font: tickFont, padding: o.xTickPad, maxRotation: 0, autoSkip: false, callback: plain},
          grid: {display: false, drawTicks: false},
          border: {display: false},
          title: {display: true, text: o.xTitle, font: tickFont, color: '#1a1a1a', padding: {top: 0, bottom: o.xTitlePad}},
          afterFit: s => { s.height = o.xH; }
        },
        y: {
          type: 'linear',
          min: 0,
          max: o.max,
          afterBuildTicks: s => { s.ticks = o.ticks.map(v => ({value: v})); },
          ticks: {font: tickFont, padding: 5, autoSkip: false, callback: plain},
          grid: {display: false, drawTicks: false},
          border: {display: false},
          afterFit: s => { s.width = o.yW; }
        }
      }
    },
    plugins: [frameTicks]
  });
}

drawPanel('chartA', {
  points: A_POINTS, diag: A_DIAG, style: 'circle', radius: 3.5, color: BLUE,
  max: 2000, ticks: AB_TICKS, xTitle: 'In-strength Rank', xTitlePad: 3, xTickPad: 7,
  pad: {left: 0, top: 8, right: 28, bottom: 0}, xH: 44, yW: 67,
  frame: {minor: 100, major: 500, minorLen: 6, majorLen: 12, letter: 'A', letterX: 354, letterY: 207, yTitle: 'Average Rank', yTitleY: 106}
});
drawPanel('chartC', {
  points: C_POINTS, diag: C_DIAG, style: 'rect', radius: 4.6, color: PURPLE,
  max: 1300, ticks: CD_TICKS, xTitle: 'In-strength Rank', xTitlePad: 3, xTickPad: 7,
  pad: {left: 0, top: 10, right: 2, bottom: 0}, xH: 45, yW: 53,
  frame: {minor: 100, major: 100, minorLen: 10, majorLen: 10, letter: 'C', letterX: 87, letterY: 207}
});
drawPanel('chartB', {
  points: B_POINTS, rowX: B_ROW_X, rowY: B_ROW_Y, diag: B_DIAG, style: 'circle', radius: 3.5, color: BLUE,
  max: 2000, ticks: AB_TICKS, xTitle: 'PageRank', xTitlePad: 7, xTickPad: 2,
  pad: {left: 0, top: 16, right: 31, bottom: 0}, xH: 42, yW: 67,
  frame: {minor: 100, major: 500, minorLen: 6, majorLen: 12, letter: 'B', letterX: 352, letterY: 213, yTitle: 'Average Rank', yTitleY: 115}
});
drawPanel('chartD', {
  points: D_POINTS, rowX: D_ROW_X, rowY: D_ROW_Y, diag: D_DIAG, style: 'rect', radius: 4.6, color: PURPLE,
  max: 1300, ticks: CD_TICKS, xTitle: 'PageRank', xTitlePad: 7, xTickPad: 2,
  pad: {left: 0, top: 15, right: 2, bottom: 0}, xH: 42, yW: 52,
  frame: {minor: 100, major: 100, minorLen: 10, majorLen: 10, letter: 'D', letterX: 87, letterY: 213}
});
</script>
</body>
</html>
